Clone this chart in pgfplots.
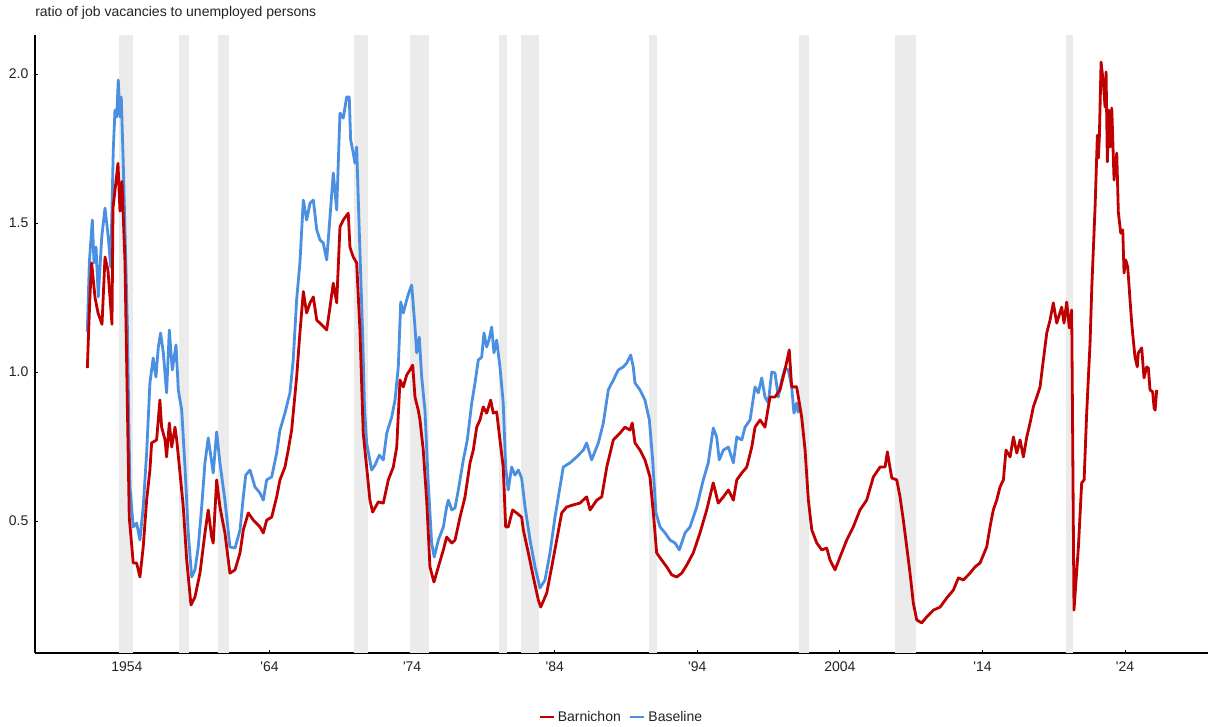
\documentclass[border=0pt]{standalone}
\usepackage{fontspec}
\setmainfont{Liberation Sans}
\usepackage{pgfplots}
\usepackage{pgfplotstable}
\pgfplotsset{compat=1.18}

\definecolor{barnred}{HTML}{C00000}
\definecolor{baseblue}{HTML}{4A8FE2}
\definecolor{recgray}{HTML}{EBEBEB}
\definecolor{txt}{HTML}{222222}

% Barnichon: ratio of job vacancies to unemployed persons
\pgfplotstableread{
year ratio
1951.22 1.013
1951.40 1.250
1951.52 1.366
1951.76 1.250
1951.97 1.198
1952.25 1.160
1952.46 1.386
1952.67 1.340
1952.95 1.160
1953.02 1.550
1953.37 1.700
1953.51 1.540
1953.65 1.640
1953.86 1.370
1954.16 0.513
1954.44 0.359
1954.68 0.359
1954.91 0.312
1955.14 0.413
1955.38 0.570
1955.61 0.671
1955.73 0.762
1956.08 0.772
1956.31 0.906
1956.43 0.815
1956.67 0.772
1956.78 0.715
1956.97 0.829
1957.14 0.748
1957.37 0.815
1957.49 0.772
1957.72 0.661
1957.95 0.547
1958.19 0.369
1958.49 0.218
1958.77 0.245
1959.12 0.325
1959.47 0.460
1959.70 0.537
1959.94 0.446
1960.05 0.426
1960.29 0.638
1960.52 0.547
1960.87 0.460
1961.22 0.325
1961.58 0.336
1961.93 0.393
1962.16 0.470
1962.51 0.527
1962.86 0.503
1963.33 0.480
1963.56 0.460
1963.80 0.503
1964.15 0.513
1964.50 0.581
1964.73 0.638
1965.08 0.681
1965.31 0.738
1965.55 0.805
1965.90 0.983
1966.13 1.131
1966.37 1.270
1966.60 1.198
1966.84 1.232
1967.07 1.252
1967.31 1.174
1967.54 1.164
1968.01 1.141
1968.24 1.218
1968.47 1.298
1968.71 1.232
1968.94 1.487
1969.17 1.510
1969.52 1.533
1969.64 1.419
1969.87 1.386
1970.11 1.366
1970.34 1.141
1970.57 0.795
1970.81 0.681
1971.04 0.570
1971.23 0.530
1971.63 0.564
1971.98 0.560
1972.33 0.638
1972.68 0.681
1972.92 0.748
1973.15 0.973
1973.38 0.950
1973.62 0.990
1973.85 1.007
1974.04 1.023
1974.20 0.916
1974.43 0.872
1974.55 0.839
1974.78 0.738
1975.02 0.570
1975.25 0.346
1975.53 0.295
1975.84 0.346
1976.19 0.403
1976.42 0.446
1976.78 0.426
1977.01 0.436
1977.36 0.513
1977.71 0.581
1978.06 0.695
1978.29 0.738
1978.53 0.815
1978.76 0.839
1978.99 0.883
1979.23 0.862
1979.51 0.906
1979.69 0.862
1979.93 0.866
1980.16 0.772
1980.39 0.681
1980.56 0.480
1980.74 0.480
1981.05 0.537
1981.33 0.527
1981.68 0.513
1981.80 0.470
1982.15 0.393
1982.50 0.312
1982.85 0.235
1983.02 0.211
1983.44 0.258
1983.79 0.346
1984.14 0.436
1984.49 0.527
1984.84 0.547
1985.30 0.554
1985.77 0.560
1986.24 0.581
1986.48 0.537
1986.95 0.570
1987.30 0.581
1987.65 0.681
1988.11 0.772
1988.58 0.795
1988.93 0.815
1989.28 0.805
1989.44 0.829
1989.63 0.762
1989.98 0.738
1990.33 0.705
1990.68 0.648
1990.92 0.527
1991.15 0.393
1991.50 0.369
1991.86 0.346
1992.21 0.319
1992.56 0.312
1992.91 0.325
1993.26 0.352
1993.72 0.393
1994.19 0.460
1994.66 0.537
1995.12 0.628
1995.47 0.560
1995.83 0.581
1996.18 0.604
1996.53 0.570
1996.77 0.638
1997.12 0.661
1997.47 0.681
1997.82 0.748
1998.05 0.815
1998.40 0.839
1998.75 0.815
1999.10 0.916
1999.45 0.916
1999.80 0.940
2000.15 1.007
2000.45 1.074
2000.62 0.950
2000.97 0.950
2001.32 0.849
2001.56 0.738
2001.79 0.570
2002.03 0.470
2002.38 0.426
2002.73 0.403
2003.08 0.409
2003.31 0.369
2003.66 0.336
2004.01 0.379
2004.48 0.436
2004.94 0.480
2005.41 0.537
2005.88 0.570
2006.35 0.648
2006.82 0.681
2007.17 0.681
2007.33 0.732
2007.64 0.644
2007.99 0.638
2008.22 0.581
2008.45 0.503
2008.69 0.413
2008.92 0.325
2009.15 0.225
2009.39 0.168
2009.74 0.158
2010.09 0.178
2010.56 0.201
2011.03 0.211
2011.50 0.242
2011.96 0.268
2012.31 0.309
2012.66 0.302
2013.13 0.325
2013.48 0.346
2013.83 0.359
2014.30 0.413
2014.53 0.480
2014.76 0.537
2015.00 0.570
2015.23 0.614
2015.47 0.638
2015.65 0.738
2015.94 0.715
2016.17 0.782
2016.41 0.728
2016.64 0.772
2016.87 0.715
2017.11 0.782
2017.34 0.829
2017.57 0.883
2017.81 0.916
2018.04 0.950
2018.27 1.040
2018.51 1.131
2018.74 1.174
2018.97 1.232
2019.21 1.164
2019.56 1.218
2019.72 1.164
2019.91 1.235
2020.09 1.148
2020.26 1.208
2020.42 0.201
2020.73 0.413
2020.96 0.628
2021.13 0.638
2021.31 0.862
2021.55 1.100
2021.67 1.285
2021.90 1.554
2022.06 1.795
2022.13 1.718
2022.20 1.789
2022.32 2.040
2022.48 1.970
2022.60 1.889
2022.67 2.007
2022.76 1.705
2022.86 1.879
2022.95 1.755
2023.07 1.886
2023.23 1.644
2023.42 1.735
2023.53 1.537
2023.70 1.466
2023.84 1.477
2023.93 1.332
2024.05 1.376
2024.19 1.352
2024.35 1.242
2024.47 1.164
2024.58 1.107
2024.70 1.050
2024.86 1.017
2024.93 1.064
2025.17 1.081
2025.33 0.980
2025.52 1.017
2025.64 1.013
2025.75 0.940
2025.94 0.933
2026.04 0.879
2026.11 0.872
2026.22 0.940
}\barnichon

% Baseline series
\pgfplotstableread{
year ratio
1951.22 1.135
1951.36 1.366
1951.57 1.510
1951.69 1.366
1951.83 1.419
1951.99 1.252
1952.23 1.453
1952.46 1.550
1952.69 1.453
1952.86 1.352
1953.04 1.745
1953.16 1.879
1953.28 1.856
1953.39 1.980
1953.51 1.856
1953.60 1.923
1953.74 1.701
1953.98 1.252
1954.03 1.150
1954.14 0.800
1954.21 0.614
1954.44 0.480
1954.68 0.493
1954.91 0.436
1955.14 0.547
1955.38 0.728
1955.61 0.963
1955.84 1.047
1956.03 0.983
1956.20 1.084
1956.36 1.131
1956.55 1.064
1956.78 0.930
1956.97 1.141
1957.18 1.007
1957.44 1.091
1957.60 0.940
1957.84 0.872
1958.07 0.681
1958.30 0.460
1958.54 0.312
1958.77 0.336
1959.00 0.413
1959.24 0.547
1959.47 0.695
1959.70 0.779
1960.05 0.661
1960.29 0.799
1960.52 0.695
1960.87 0.570
1961.22 0.413
1961.58 0.409
1961.93 0.470
1962.16 0.581
1962.33 0.654
1962.63 0.671
1962.98 0.614
1963.33 0.594
1963.56 0.570
1963.80 0.638
1964.15 0.648
1964.50 0.728
1964.73 0.805
1965.08 0.862
1965.43 0.930
1965.66 1.040
1965.90 1.242
1966.13 1.366
1966.37 1.577
1966.60 1.510
1966.84 1.567
1967.07 1.577
1967.31 1.477
1967.54 1.443
1967.77 1.433
1968.01 1.376
1968.24 1.520
1968.47 1.668
1968.71 1.544
1968.94 1.869
1969.17 1.852
1969.41 1.923
1969.59 1.923
1969.69 1.779
1969.87 1.735
1969.99 1.701
1970.11 1.755
1970.29 1.477
1970.52 1.140
1970.66 0.880
1970.81 0.762
1971.16 0.671
1971.40 0.688
1971.70 0.721
1971.98 0.705
1972.22 0.795
1972.57 0.849
1972.80 0.906
1973.03 1.017
1973.20 1.235
1973.38 1.198
1973.62 1.242
1973.78 1.268
1973.97 1.292
1974.20 1.151
1974.32 1.064
1974.50 1.117
1974.67 0.983
1974.90 0.872
1975.13 0.628
1975.37 0.426
1975.55 0.379
1975.84 0.436
1976.19 0.480
1976.42 0.547
1976.54 0.570
1976.78 0.537
1977.01 0.544
1977.24 0.604
1977.59 0.705
1977.87 0.772
1978.18 0.896
1978.41 0.963
1978.64 1.040
1978.88 1.050
1979.04 1.131
1979.23 1.084
1979.39 1.107
1979.58 1.151
1979.74 1.064
1979.93 1.107
1980.16 1.017
1980.39 0.896
1980.56 0.681
1980.74 0.604
1980.98 0.681
1981.21 0.654
1981.45 0.671
1981.68 0.644
1981.92 0.547
1982.27 0.436
1982.62 0.346
1982.97 0.275
1983.32 0.302
1983.67 0.393
1984.02 0.513
1984.37 0.614
1984.60 0.681
1985.07 0.695
1985.54 0.715
1986.01 0.738
1986.24 0.762
1986.59 0.705
1987.06 0.762
1987.41 0.829
1987.76 0.940
1988.11 0.973
1988.46 1.007
1988.81 1.017
1989.05 1.030
1989.33 1.057
1989.51 1.017
1989.63 0.963
1989.98 0.940
1990.33 0.906
1990.64 0.839
1990.87 0.705
1991.10 0.527
1991.39 0.480
1991.74 0.460
1992.09 0.436
1992.44 0.426
1992.74 0.403
1993.14 0.460
1993.49 0.480
1993.96 0.547
1994.42 0.638
1994.77 0.695
1995.12 0.812
1995.36 0.782
1995.54 0.705
1995.83 0.738
1996.18 0.748
1996.53 0.695
1996.77 0.782
1997.12 0.772
1997.35 0.815
1997.70 0.839
1998.05 0.950
1998.28 0.930
1998.52 0.980
1998.75 0.916
1998.98 0.896
1999.22 1.000
1999.45 0.997
1999.68 0.916
1999.92 0.973
2000.15 1.013
2000.38 1.007
2000.62 0.950
2000.78 0.862
2000.97 0.896
2001.09 0.862
}\baseline

% Recession periods (start, end)
\pgfplotstableread{
start end
1953.44 1954.42
1957.65 1958.35
1960.38 1961.15
1969.92 1970.90
1973.85 1975.18
1980.09 1980.65
1981.64 1982.90
1990.61 1991.17
2001.13 2001.84
2007.87 2009.34
2019.86 2020.35
}\recessions

\begin{document}
\begin{tikzpicture}
\path[use as bounding box] (0pt,0pt) rectangle (910.5pt,545.25pt);
\node[anchor=base west, inner sep=0pt, text=txt, font=\fontsize{10.5}{12}\selectfont]
  at (26.25pt,532.5pt) {ratio of job vacancies to unemployed persons};
\begin{axis}[
  at={(26.25pt,55.5pt)}, anchor=south west,
  scale only axis, width=879.75pt, height=463.5pt,
  xmin=1947.55, xmax=2029.82, ymin=0.057, ymax=2.131,
  axis x line*=bottom, axis y line*=left,
  axis line style={-, line width=1.1pt, black},
  tick align=inside, major tick length=2.2pt,
  tick style={black, line width=0.7pt},
  xtick={1954,1964,1974,1984,1994,2004,2014,2024},
  xticklabels={1954,\textquotesingle64,\textquotesingle74,\textquotesingle84,\textquotesingle94,2004,\textquotesingle14,\textquotesingle24},
  ytick={0.5,1.0,1.5,2.0},
  /pgf/number format/fixed,
  /pgf/number format/fixed zerofill,
  /pgf/number format/precision=1,
  /pgf/number format/assume math mode=true,
  tick label style={font=\fontsize{10.5}{12}\selectfont, text=txt},
  xticklabel style={yshift=-3pt},
  yticklabel style={xshift=-1.5pt},
  legend style={at={(0.5,-0.1036)}, anchor=center, draw=none, fill=none,
    legend columns=2, font=\fontsize{10.5}{12}\selectfont, text=txt,
    /tikz/every even column/.append style={column sep=4pt}},
  legend image code/.code={\draw[#1, line width=2.2pt] (0pt,0pt) -- (10.5pt,0pt);},
]
% shaded recessions
\pgfplotsinvokeforeach{0,...,10}{
  \pgfplotstablegetelem{#1}{start}\of\recessions \let\rs\pgfplotsretval
  \pgfplotstablegetelem{#1}{end}\of\recessions \let\re\pgfplotsretval
  \edef\temp{\noexpand\addplot[fill=recgray, draw=none, forget plot]
    coordinates {(\rs,0.057) (\rs,2.131) (\re,2.131) (\re,0.057)} -- cycle;}
  \temp
}
\addlegendimage{barnred}
\addlegendentry{Barnichon}
\addlegendimage{baseblue}
\addlegendentry{Baseline}
\addplot[baseblue, line width=2.1pt, line join=round, forget plot] table[x=year, y=ratio] {\baseline};
\addplot[barnred, line width=2.1pt, line join=round, forget plot] table[x=year, y=ratio] {\barnichon};
\end{axis}
\end{tikzpicture}
\end{document}
